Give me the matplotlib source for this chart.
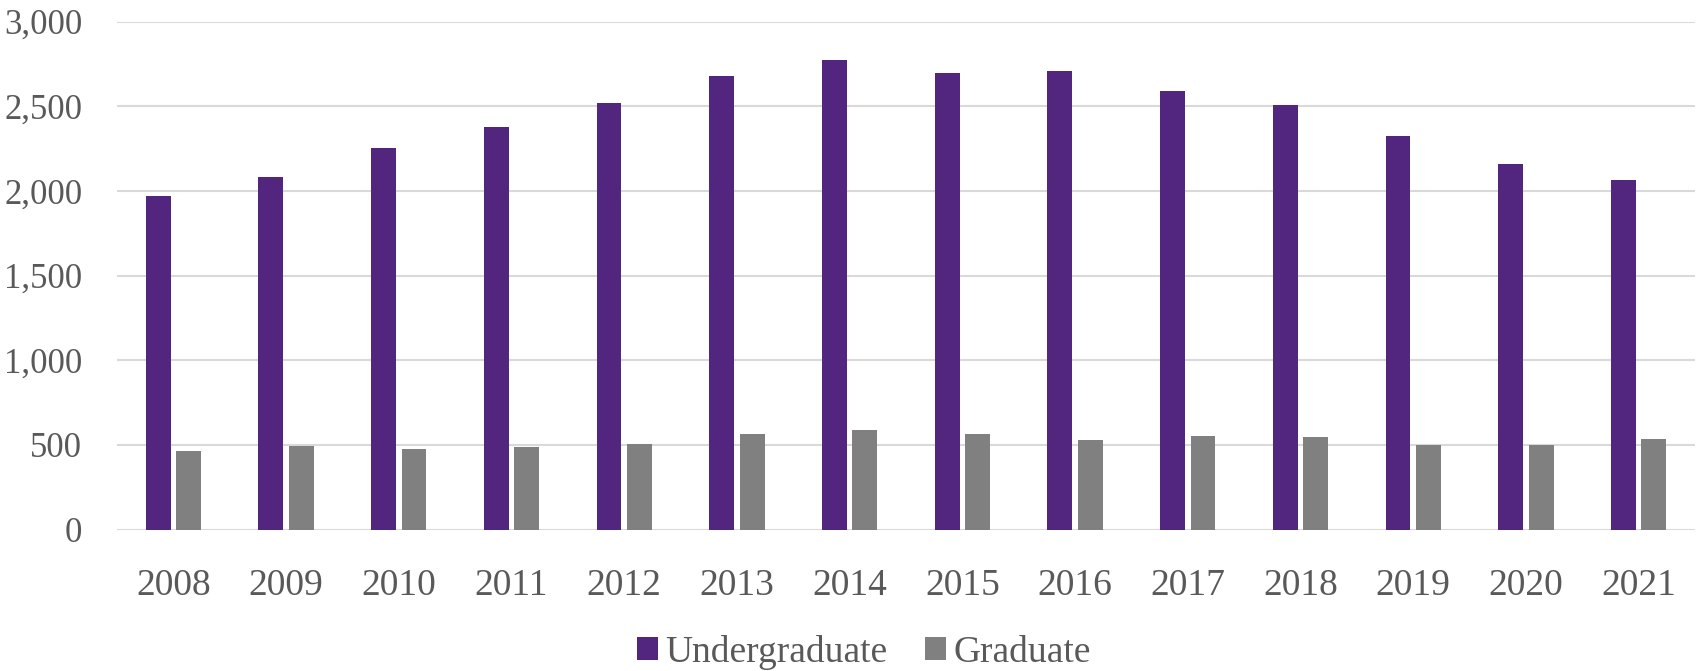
import numpy as np
import matplotlib
matplotlib.use('Agg')
import matplotlib.pyplot as plt
from matplotlib.ticker import FuncFormatter

years = ['2008', '2009', '2010', '2011', '2012', '2013', '2014',
         '2015', '2016', '2017', '2018', '2019', '2020', '2021']
undergrad = [1968, 2085, 2253, 2375, 2522, 2678, 2776,
             2698, 2706, 2592, 2510, 2325, 2159, 2065]
graduate = [464, 496, 478, 488, 508, 565, 589,
            565, 530, 550, 548, 500, 500, 536]

purple = '#52267F'
grey = '#808080'
text_col = '#595959'

plt.rcParams['font.family'] = ['Liberation Serif', 'DejaVu Serif']

fig = plt.figure(figsize=(16.98, 6.71), dpi=100)
ax = fig.add_axes([117 / 1698, 1 - 529.5 / 671, (1695 - 117) / 1698, (529.5 - 21.7) / 671])

x = np.arange(len(years))
w = 0.22
ax.bar(x - 0.135, undergrad, w, color=purple, label='Undergraduate', zorder=3)
ax.bar(x + 0.135, graduate, w, color=grey, label='Graduate', zorder=3)

ax.set_xlim(-0.5, len(years) - 0.5)
ax.set_ylim(0, 3000)
ax.set_yticks(np.arange(0, 3001, 500))
ax.yaxis.set_major_formatter(FuncFormatter(lambda v, p: f'{int(v):,}'))
ax.set_xticks(x)
ax.set_xticklabels(years)

ax.grid(axis='y', color='#D9D9D9', linewidth=1.5, zorder=0)
for s in ax.spines.values():
    s.set_visible(False)
ax.tick_params(axis='both', length=0, colors=text_col)
ax.tick_params(axis='y', pad=25, labelsize=25)
ax.tick_params(axis='x', pad=28, labelsize=27)

fig.legend(loc='center', bbox_to_anchor=(864 / 1698, 1 - 652 / 671), ncol=2,
           frameon=False, fontsize=27, labelcolor=text_col,
           handlelength=0.55, handleheight=0.55, handletextpad=0.2,
           columnspacing=1.0)

fig.savefig('out.png', dpi=100)
